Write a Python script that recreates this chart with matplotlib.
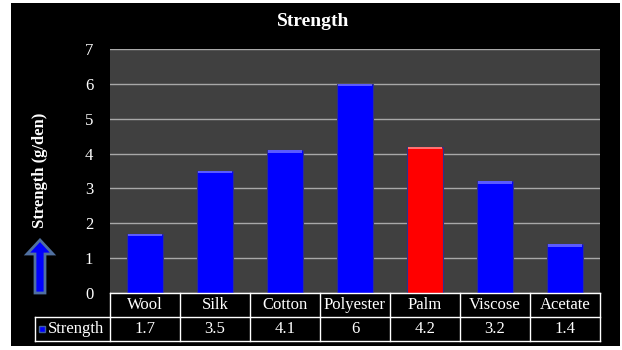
import numpy as np
import matplotlib
matplotlib.use("Agg")
import matplotlib.pyplot as plt
from matplotlib.patches import Rectangle, FancyArrow
import matplotlib.transforms as mtransforms

# data
categories = ["Wool", "Silk", "Cotton", "Polyester", "Palm", "Viscose", "Acetate"]
strength = [1.7, 3.5, 4.1, 6, 4.2, 3.2, 1.4]
series_name = "Strength"
highlight = "Palm"
yticks = [0, 1, 2, 3, 4, 5, 6, 7]

serif = "Liberation Serif"

fig = plt.figure(figsize=(6.22, 3.5), dpi=100, facecolor="white")

# black chart background
fig.patches.append(Rectangle((11 / 622, 4 / 350), 609 / 622, 343 / 350,
                             transform=fig.transFigure, facecolor="black",
                             edgecolor="none", zorder=-10))

ax = fig.add_axes([110 / 622, 57 / 350, 490 / 622, 244 / 350])
ax.set_facecolor("#404040")

x = np.arange(len(categories))
colors = ["#ff0000" if c == highlight else "#0000ff" for c in categories]
caps = ["#ff7070" if c == highlight else "#5a5aff" for c in categories]
ax.bar(x, strength, width=0.52, color=colors, edgecolor="#30308a",
       linewidth=0.8, zorder=3)
# light bevel along each bar top
cap_h = 0.07
ax.bar(x, [cap_h] * len(x), bottom=np.array(strength) - cap_h, width=0.48,
       color=caps, linewidth=0, zorder=4)

ax.set_xlim(-0.5, len(categories) - 0.5)
ax.set_ylim(0, 7)
ax.set_yticks(yticks)
ax.set_yticklabels([str(t) for t in yticks], color="white",
                   fontfamily=serif, fontsize=12)
ax.tick_params(axis="y", length=0, pad=12)
ax.set_xticks([])
ax.grid(axis="y", color="#a8a8a8", linewidth=1, zorder=1)
for s in ax.spines.values():
    s.set_visible(False)

fig.text(313 / 622, 1 - 22 / 350, "Strength", color="white", fontweight="bold",
         fontfamily=serif, fontsize=14, ha="center", va="center")
fig.text(40 / 622, 1 - 170 / 350, "Strength (g/den)", rotation=90,
         color="white", fontweight="bold", fontfamily=serif, fontsize=12,
         ha="center", va="center")

# blue up arrow left of the axis
fig.patches.append(FancyArrow(0.40, 0.57, 0, 0.53, width=0.10,
                              head_width=0.26, head_length=0.14,
                              length_includes_head=True,
                              facecolor="#0000ff", edgecolor="#5070a0",
                              linewidth=2, transform=fig.dpi_scale_trans))

# data table under the plot
tr = mtransforms.blended_transform_factory(ax.transData, ax.transAxes)
row_h = 24 / 244
left_edge = -0.5 - 75 / 70
right_edge = len(categories) - 0.5
lw = 1
ax.plot([-0.5, right_edge], [0, 0], color="white", lw=lw, transform=tr, clip_on=False, zorder=5)
ax.plot([left_edge, right_edge], [-row_h, -row_h], color="white", lw=lw, transform=tr, clip_on=False)
ax.plot([left_edge, right_edge], [-2 * row_h, -2 * row_h], color="white", lw=lw, transform=tr, clip_on=False)
ax.plot([left_edge, left_edge], [-row_h, -2 * row_h], color="white", lw=lw, transform=tr, clip_on=False)
for b in np.arange(len(categories) + 1) - 0.5:
    ax.plot([b, b], [0, -2 * row_h], color="white", lw=lw, transform=tr, clip_on=False)

for i, (c, v) in enumerate(zip(categories, strength)):
    ax.text(i, -0.5 * row_h, c, color="white", fontfamily=serif, fontsize=12,
            ha="center", va="center", transform=tr)
    ax.text(i, -1.5 * row_h, f"{v:g}", color="white", fontfamily=serif,
            fontsize=12, ha="center", va="center", transform=tr)

ax.plot([left_edge + 0.1], [-1.5 * row_h], marker="s", markersize=5,
        color="#0000ff", markeredgecolor="#4060a0", transform=tr, clip_on=False)
ax.text(left_edge + 0.19, -1.5 * row_h, series_name, color="white",
        fontfamily=serif, fontsize=12, ha="left", va="center", transform=tr)

fig.savefig("out.png", dpi=100, facecolor="white")
